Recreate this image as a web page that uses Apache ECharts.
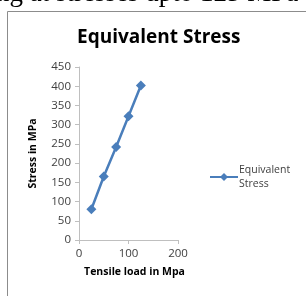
<!DOCTYPE html>
<html>
<head>
<meta charset="utf-8">
<script src="https://cdn.jsdelivr.net/npm/echarts@6/dist/echarts.min.js"></script>
<style>
  html, body { margin: 0; padding: 0; background: #fff; }
  #main { width: 306px; height: 296px; }
</style>
</head>
<body>
<div id="main"></div>
<script>
// values
var loads = [25, 50, 75, 100, 125];
var stress = [80, 165, 242, 322, 402];
var seriesName = 'Equivalent Stress';

var chartDom = document.getElementById('main');
var myChart = echarts.init(chartDom);
var font = 'Open Sans';
var option;

option = {
    animation: false,
    title: {
        text: 'Equivalent Stress',
        left: 72,
        top: 23,
        textStyle: { fontFamily: font, fontSize: 19, fontWeight: 'bold', color: '#000' }
    },
    graphic: [
        {
            type: 'rect',
            shape: { x: 7.5, y: 11.5, width: 330, height: 320 },
            style: { fill: 'none', stroke: '#8c8c8c', lineWidth: 1 },
            silent: true
        },
        {
            type: 'text',
            left: -4,
            top: -20,
            style: {
                text: 'ng at stresses upto 125 MPa',
                font: '27px "Liberation Serif"',
                fill: '#000'
            },
            silent: true
        }
    ],
    legend: {
        left: 204,
        top: 158,
        itemWidth: 28,
        itemHeight: 10,
        itemGap: 0,
        formatter: function (name) { return name.replace(' ', '\n'); },
        textStyle: { fontFamily: font, fontSize: 10.5, color: '#404040', lineHeight: 14, padding: [0, 0, 0, -4] }
    },
    grid: { left: 79, right: 128, top: 67, bottom: 56 },
    xAxis: {
        type: 'value',
        min: 0,
        max: 200,
        interval: 100,
        name: 'Tensile load in Mpa',
        nameLocation: 'middle',
        nameGap: 27,
        nameTextStyle: { fontFamily: font, fontSize: 10.5, fontWeight: 'bold', color: '#000', padding: [0, 0, 0, 12] },
        axisLine: { lineStyle: { color: '#bfbfbf' } },
        axisTick: { show: true, length: 4, inside: false, lineStyle: { color: '#bfbfbf' } },
        axisLabel: { fontFamily: font, fontSize: 11.5, color: '#404040', margin: 8 },
        splitLine: { show: false }
    },
    yAxis: {
        type: 'value',
        min: 0,
        max: 450,
        interval: 50,
        name: 'Stress in MPa',
        nameLocation: 'middle',
        nameRotate: 90,
        nameGap: 40,
        nameTextStyle: { fontFamily: font, fontSize: 10.5, fontWeight: 'bold', color: '#000' },
        axisLine: { show: true, lineStyle: { color: '#bfbfbf' } },
        axisTick: { show: true, length: 4, lineStyle: { color: '#bfbfbf' } },
        axisLabel: { fontFamily: font, fontSize: 11.5, color: '#404040', margin: 8 },
        splitLine: { show: false }
    },
    series: [{
        name: seriesName,
        type: 'line',
        data: loads.map(function (x, i) { return [x, stress[i]]; }),
        symbol: 'diamond',
        symbolSize: 10,
        lineStyle: { color: '#4a7ebb', width: 2.5 },
        itemStyle: { color: '#4a7ebb' }
    }]
};
option && myChart.setOption(option);
</script>
</body>
</html>
